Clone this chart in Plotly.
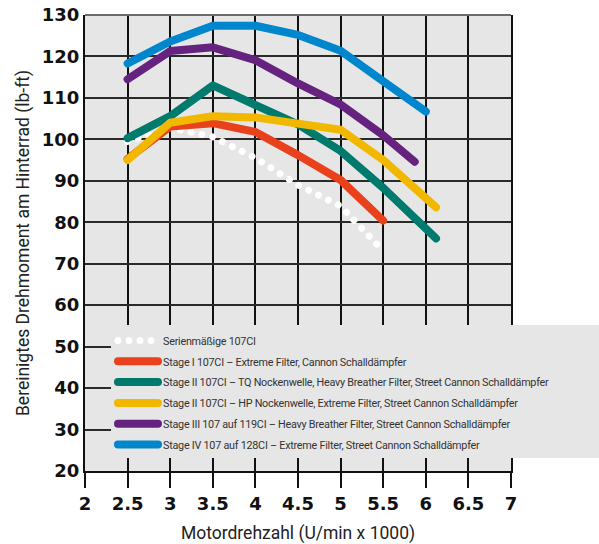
import plotly.graph_objects as go

# ---------------- data ----------------
rpm_tickvals = [2, 2.5, 3, 3.5, 4, 4.5, 5, 5.5, 6, 6.5, 7]
rpm_ticktext = ["2", "2.5", "3", "3.5", "4", "4.5", "5", "5.5", "6", "6.5", "7"]
torque_tickvals = [20, 30, 40, 50, 60, 70, 80, 90, 100, 110, 120, 130]
torque_ticktext = ["20", "30", "40", "50", "60", "70", "80", "90", "100", "110", "120", "130"]

names = [
    "Serienmäßige 107CI",
    "Stage I 107CI – Extreme Filter, Cannon Schalldämpfer",
    "Stage II 107CI – TQ Nockenwelle, Heavy Breather Filter, Street Cannon Schalldämpfer",
    "Stage II 107CI – HP Nockenwelle, Extreme Filter, Street Cannon Schalldämpfer",
    "Stage III 107 auf 119CI – Heavy Breather Filter, Street Cannon Schalldämpfer",
    "Stage IV 107 auf 128CI – Extreme Filter, Street Cannon Schalldämpfer",
]

stock_x = [2.5, 3, 3.5, 4, 4.5, 5, 5.5]
stock_y = [99.5, 102.8, 100.6, 95.5, 89.0, 83.9, 73.1]

stage1_x = [2.5, 3, 3.5, 4, 4.5, 5, 5.5]
stage1_y = [95.3, 103.1, 103.9, 101.8, 96.2, 90.2, 80.4]

stage2tq_x = [2.5, 3, 3.5, 4, 4.5, 5, 5.5, 6.12]
stage2tq_y = [100.3, 105.6, 113.0, 108.5, 103.6, 97.2, 88.3, 76.1]

stage2hp_x = [2.5, 3, 3.5, 4, 4.5, 5, 5.5, 6, 6.12]
stage2hp_y = [95.0, 104.0, 105.6, 105.3, 103.8, 102.3, 95.0, 86.2, 83.6]

stage3_x = [2.5, 3, 3.5, 4, 4.5, 5, 5.5, 5.7, 5.87]
stage3_y = [114.5, 121.3, 122.2, 119.1, 113.5, 108.4, 101.0, 97.3, 94.6]

stage4_x = [2.5, 3, 3.5, 4, 4.5, 5, 5.5, 6]
stage4_y = [118.3, 123.6, 127.4, 127.4, 125.2, 121.4, 114.0, 106.7]

colors = ["#ffffff", "#e8411b", "#007a6d", "#f2b800", "#65237f", "#0086cc"]

series = [
    (stock_x, stock_y),
    (stage1_x, stage1_y),
    (stage2tq_x, stage2tq_y),
    (stage2hp_x, stage2hp_y),
    (stage3_x, stage3_y),
    (stage4_x, stage4_y),
]

# ---------------- figure ----------------
fig = go.Figure()
for i, ((xs, ys), name, col) in enumerate(zip(series, names, colors)):
    fig.add_trace(go.Scatter(
        x=xs, y=ys, name=name, mode="lines",
        legendgroup="g%d" % i,
        line=dict(color=col, width=8 if i else 7, dash="6px,5px" if i == 0 else "solid"),
        hoverinfo="skip",
    ))

W, H = 599, 544
L, R, T, B = 85, 88, 15, 73
pw, ph = W - L - R, H - T - B

def px_x(p):
    return (p - L) / pw

def px_y(p):
    return (H - B - p) / ph

shapes = [
    # legend panel covering plot area
    dict(type="rect", xref="paper", yref="paper",
         x0=px_x(111), x1=px_x(599), y0=px_y(458), y1=px_y(325),
         fillcolor="#e6e6e6", line=dict(width=0), layer="above"),
    # top border (grey)
    dict(type="line", xref="paper", yref="paper", x0=0, x1=1, y0=1, y1=1,
         line=dict(color="#6b6b6b", width=2), layer="above"),
]

tick_font = dict(family="DejaVu Sans, Roboto, sans-serif", size=18, color="#111", weight="bold")
title_font = dict(family="Roboto, Open Sans, sans-serif", size=17.5, color="#222")

fig.update_layout(
    width=W, height=H,
    margin=dict(l=L, r=R, t=T, b=B, pad=0, autoexpand=False),
    paper_bgcolor="#ffffff",
    plot_bgcolor="#e6e6e6",
    shapes=shapes,
    showlegend=True,
    legend=dict(
        x=px_x(113), y=px_y(326), xanchor="left", yanchor="top",
        bgcolor="rgba(0,0,0,0)", borderwidth=0,
        font=dict(family="Roboto, sans-serif", size=10.8, color="#333"),
        tracegroupgap=1.8, itemwidth=40,
        traceorder="grouped",
    ),
    xaxis=dict(
        range=[2, 7], tickmode="array", tickvals=rpm_tickvals, ticktext=rpm_ticktext,
        showgrid=True, gridcolor="#111", gridwidth=2,
        showline=True, linecolor="#111", linewidth=2, mirror=False,
        ticks="outside", ticklen=15, tickwidth=2, tickcolor="#111",
        tickfont=tick_font, zeroline=False, automargin=False,
        title=dict(text="Motordrehzahl (U/min x 1000)", font=title_font, standoff=15),
    ),
    yaxis=dict(
        range=[20, 130], tickmode="array", tickvals=torque_tickvals, ticktext=torque_ticktext,
        showgrid=True, gridcolor="#2a2a2a", gridwidth=1.5,
        showline=True, linecolor="#111", linewidth=2, mirror=True,
        ticks="", ticklabelstandoff=0,
        tickfont=tick_font, zeroline=False, automargin=False,
        title=dict(text="Bereinigtes Drehmoment am Hinterrad (lb-ft)", font=title_font, standoff=8),
    ),
)

post = """
document.body.style.margin = '0';
function fixLines(){
  document.querySelectorAll('path.js-line').forEach(function(p){
    p.style.strokeLinecap = 'round';
    p.style.strokeLinejoin = 'round';
    var s = (p.style.stroke || '').replace(/\\s/g,'');
    if (s === 'rgb(255,255,255)' || s === '#ffffff') {
      p.style.strokeDasharray = '0.01px,11px';
    }
  });
  document.querySelectorAll('text.legendtext').forEach(function(t){
    t.style.letterSpacing = '-0.25px';
  });
}
fixLines();
var gd = document.getElementById('{plot_id}');
if (gd && gd.on) { gd.on('plotly_afterplot', fixLines); }
"""

fig.write_html("out.html", post_script=post, config={"displayModeBar": False, "responsive": False})
